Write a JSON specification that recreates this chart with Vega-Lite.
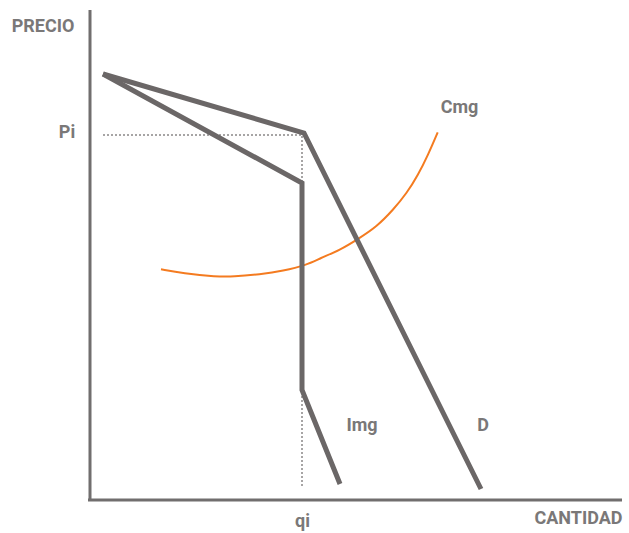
{
  "$schema": "https://vega.github.io/schema/vega-lite/v6.json",
  "width": 629,
  "height": 533,
  "padding": 0,
  "autosize": {"type": "none"},
  "config": {"view": {"stroke": null}},
  "datasets": {
    "curves": [
      {"series": "axis_y", "o": 1, "q": 0, "p": 490},
      {"series": "axis_y", "o": 2, "q": 0, "p": 0},
      {"series": "axis_x", "o": 1, "q": -2, "p": 0},
      {"series": "axis_x", "o": 2, "q": 532, "p": 0},
      {"series": "guide", "o": 1, "q": 13, "p": 365},
      {"series": "guide", "o": 2, "q": 212, "p": 365},
      {"series": "guide", "o": 3, "q": 212, "p": 13},
      {"series": "Cmg", "o": 1, "q": 71, "p": 230.7},
      {"series": "Cmg", "o": 2, "q": 93, "p": 226.7},
      {"series": "Cmg", "o": 3, "q": 126.7, "p": 223.3},
      {"series": "Cmg", "o": 4, "q": 143, "p": 223.3},
      {"series": "Cmg", "o": 5, "q": 170, "p": 225.7},
      {"series": "Cmg", "o": 6, "q": 193, "p": 229},
      {"series": "Cmg", "o": 7, "q": 216.7, "p": 235},
      {"series": "Cmg", "o": 8, "q": 230, "p": 241.7},
      {"series": "Cmg", "o": 9, "q": 250, "p": 250},
      {"series": "Cmg", "o": 10, "q": 268, "p": 261},
      {"series": "Cmg", "o": 11, "q": 286.7, "p": 273.3},
      {"series": "Cmg", "o": 12, "q": 303, "p": 290},
      {"series": "Cmg", "o": 13, "q": 316.7, "p": 306.7},
      {"series": "Cmg", "o": 14, "q": 328, "p": 325},
      {"series": "Cmg", "o": 15, "q": 338, "p": 345},
      {"series": "Cmg", "o": 16, "q": 347.7, "p": 367.7},
      {"series": "D", "o": 1, "q": 13, "p": 426},
      {"series": "D", "o": 2, "q": 214, "p": 367},
      {"series": "D", "o": 3, "q": 391, "p": 11},
      {"series": "Img", "o": 1, "q": 13, "p": 426},
      {"series": "Img", "o": 2, "q": 212, "p": 317},
      {"series": "Img", "o": 3, "q": 212, "p": 110},
      {"series": "Img", "o": 4, "q": 250, "p": 16}
    ],
    "labels": [
      {"label": "PRECIO", "q": -47, "p": 473},
      {"label": "Pi", "q": -23, "p": 367},
      {"label": "qi", "q": 212.5, "p": -22},
      {"label": "CANTIDAD", "q": 488.5, "p": -19},
      {"label": "Cmg", "q": 369.5, "p": 392},
      {"label": "Img", "q": 272, "p": 74},
      {"label": "D", "q": 393, "p": 74}
    ]
  },
  "encoding": {
    "x": {"field": "q", "type": "quantitative", "scale": {"domain": [-90, 539], "nice": false, "zero": false}, "axis": null},
    "y": {"field": "p", "type": "quantitative", "scale": {"domain": [-33, 500], "nice": false, "zero": false}, "axis": null}
  },
  "layer": [
    {
      "data": {"name": "curves"},
      "transform": [{"filter": "datum.series === 'guide'"}],
      "mark": {"type": "line", "color": "#8a8888", "strokeWidth": 1.5, "strokeDash": [2, 2]},
      "encoding": {"order": {"field": "o"}}
    },
    {
      "data": {"name": "curves"},
      "transform": [{"filter": "datum.series === 'axis_x' || datum.series === 'axis_y'"}],
      "mark": {"type": "line", "color": "#716e6e", "strokeWidth": 3, "strokeCap": "butt"},
      "encoding": {"detail": {"field": "series"}, "order": {"field": "o"}}
    },
    {
      "data": {"name": "curves"},
      "transform": [{"filter": "datum.series === 'Cmg'"}],
      "mark": {"type": "line", "color": "#f47b20", "strokeWidth": 2, "interpolate": "basis"},
      "encoding": {"order": {"field": "o"}}
    },
    {
      "data": {"name": "curves"},
      "transform": [{"filter": "datum.series === 'D' || datum.series === 'Img'"}],
      "mark": {"type": "line", "color": "#6b6767", "strokeWidth": 5, "strokeCap": "butt", "strokeJoin": "miter"},
      "encoding": {"detail": {"field": "series"}, "order": {"field": "o"}}
    },
    {
      "data": {"name": "labels"},
      "mark": {"type": "text", "font": "Roboto", "fontWeight": "bold", "fontSize": 18, "color": "#7a7878", "baseline": "middle", "align": "center"},
      "encoding": {"text": {"field": "label"}}
    }
  ]
}
